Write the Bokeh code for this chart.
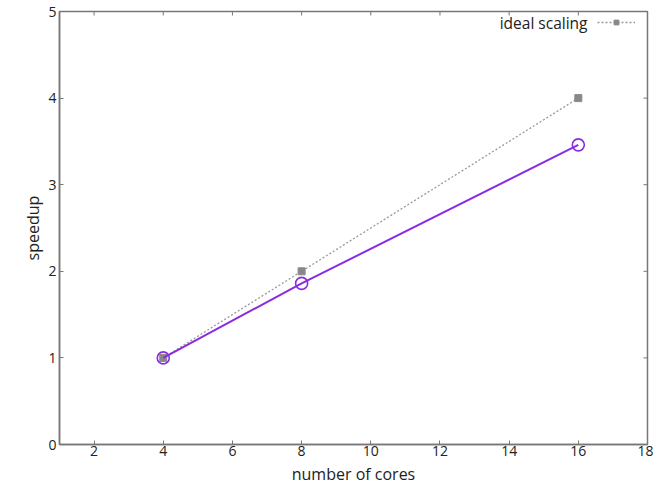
import math
from bokeh.plotting import figure
from bokeh.models import Range1d, FixedTicker, Legend, LegendItem, Label
from bokeh.embed import file_html
from bokeh.resources import INLINE

cores = [4, 8, 16]
ideal = [1, 2, 4]
speedup = [1, 1.86, 3.46]
xticks = [2, 4, 6, 8, 10, 12, 14, 16, 18]
yticks = [0, 1, 2, 3, 4, 5]

FONT = "Open Sans"
TXT = "#222222"
AX = "#777777"
PURPLE = "#8a2be2"

p = figure(width=653, height=487, output_backend="svg", toolbar_location=None,
           x_range=Range1d(1, 18), y_range=Range1d(0, 5),
           min_border_left=59, min_border_top=11, min_border_right=6, min_border_bottom=30)
p.grid.visible = False
p.outline_line_color = AX
p.outline_line_width = 1.5

for ax in [p.xaxis[0], p.yaxis[0]]:
    ax.axis_line_color = AX
    ax.axis_line_width = 1.5
    ax.major_tick_in = 4
    ax.major_tick_out = 0
    ax.major_tick_line_color = AX
    ax.minor_tick_line_color = None
    ax.major_label_text_font = FONT
    ax.major_label_text_font_size = "14px"
    ax.major_label_text_color = TXT
    ax.axis_label_text_font = FONT
    ax.axis_label_text_font_size = "16px"
    ax.axis_label_text_font_style = "normal"
    ax.axis_label_text_color = TXT

p.xaxis[0].ticker = FixedTicker(ticks=xticks)
p.yaxis[0].ticker = FixedTicker(ticks=yticks)
p.xaxis[0].axis_label = "number of cores"
p.yaxis[0].axis_label = "speedup"
p.xaxis[0].major_label_standoff = 1
p.yaxis[0].major_label_standoff = 3
p.xaxis[0].axis_label_standoff = 4
p.yaxis[0].axis_label_standoff = 1

# mirrored inward ticks on top and right edges
p.ray(x=xticks, y=yticks[-1], length=4, length_units="screen", angle=-math.pi / 2,
      line_color=AX, line_width=1)
p.ray(x=xticks[-1], y=yticks, length=4, length_units="screen", angle=math.pi,
      line_color=AX, line_width=1)

l_ideal = p.line(cores, ideal, line_color="#999999", line_width=1.3, line_dash="2 2")
s_ideal = p.scatter(cores, ideal, marker="square", size=7, fill_color="#888888", line_color="#888888")

p.line(cores, speedup, line_color=PURPLE, line_width=2)
p.scatter(cores, speedup, marker="circle", size=12, fill_color=None, line_color=PURPLE, line_width=1.6)

legend = Legend(items=[LegendItem(label=" ", renderers=[l_ideal, s_ideal])],
                location=(538, 416), padding=0, spacing=0, margin=0,
                glyph_width=38, glyph_height=12, label_standoff=0, label_width=0,
                label_text_font_size="1px", border_line_color=None, background_fill_alpha=0)
p.add_layout(legend)

p.add_layout(Label(x=528, y=422, x_units="screen", y_units="screen", text="ideal scaling",
                   text_align="right", text_baseline="middle", text_font=FONT,
                   text_font_size="15.5px", text_color=TXT))

open("out.html", "w").write(file_html(p, INLINE))
